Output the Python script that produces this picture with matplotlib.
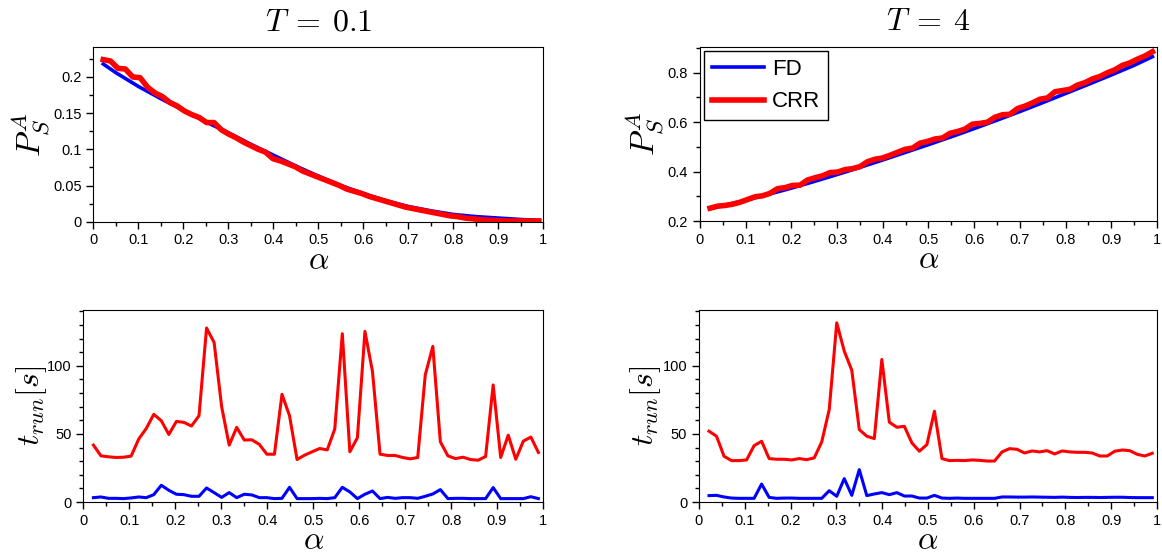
import numpy as np
import matplotlib
matplotlib.use("Agg")
from matplotlib import pyplot as plt
from matplotlib.ticker import MultipleLocator

plt.rcParams['mathtext.fontset'] = 'cm'
plt.rcParams['font.family'] = ['Liberation Sans', 'DejaVu Sans']

# alpha grid used for the CRR runs and timings (60 samples)
alpha = np.linspace(0.022, 0.99, 60)

# FD reference curves read at coarser alpha points
alpha_fd = [0.022, 0.05, 0.1, 0.15, 0.2, 0.25, 0.3, 0.35, 0.4, 0.45, 0.5,
            0.55, 0.6, 0.65, 0.7, 0.75, 0.8, 0.85, 0.9, 0.95, 0.99]
fd_t01 = [0.218, 0.206, 0.187, 0.170, 0.154, 0.138, 0.123, 0.107, 0.092, 0.077, 0.063,
          0.050, 0.039, 0.029, 0.021, 0.015, 0.010, 0.007, 0.005, 0.003, 0.002]
fd_t4 = [0.250, 0.262, 0.284, 0.308, 0.333, 0.360, 0.388, 0.417, 0.447, 0.478, 0.509,
         0.541, 0.574, 0.608, 0.643, 0.679, 0.716, 0.753, 0.791, 0.830, 0.865]

crr_t01 = [0.224, 0.222, 0.212, 0.211, 0.200, 0.199, 0.186, 0.178, 0.173, 0.165,
           0.160, 0.153, 0.148, 0.144, 0.137, 0.137, 0.127, 0.121, 0.116, 0.110,
           0.105, 0.100, 0.096, 0.087, 0.084, 0.080, 0.076, 0.070, 0.066, 0.062,
           0.058, 0.054, 0.050, 0.045, 0.042, 0.039, 0.035, 0.032, 0.029, 0.026,
           0.023, 0.020, 0.018, 0.016, 0.014, 0.012, 0.010, 0.008, 0.007, 0.005,
           0.004, 0.003, 0.002, 0.002, 0.001, 0.001, 0.001, 0.001, 0.001, 0.001]
crr_t4 = [0.252, 0.260, 0.263, 0.268, 0.276, 0.287, 0.298, 0.302, 0.312, 0.331,
          0.335, 0.344, 0.345, 0.366, 0.375, 0.383, 0.396, 0.398, 0.408, 0.412,
          0.420, 0.440, 0.450, 0.455, 0.466, 0.478, 0.490, 0.495, 0.515, 0.522,
          0.532, 0.536, 0.555, 0.562, 0.572, 0.592, 0.595, 0.600, 0.620, 0.630,
          0.632, 0.655, 0.665, 0.678, 0.693, 0.698, 0.723, 0.728, 0.733, 0.750,
          0.760, 0.775, 0.785, 0.800, 0.812, 0.830, 0.840, 0.855, 0.868, 0.885]

# run times [s]
trun_crr_t01 = [41.8, 33.9, 33.2, 32.7, 32.9, 33.7, 46.2, 54.0, 64.4, 59.7,
                49.6, 59.2, 58.5, 55.8, 63.4, 127.8, 117.2, 70.0, 41.8, 54.8,
                45.5, 45.7, 42.3, 35.1, 35.1, 79.1, 63.4, 31.2, 34.4, 36.9,
                39.3, 38.3, 53.6, 123.6, 36.9, 47.2, 125.3, 95.8, 35.1, 34.2,
                34.2, 32.7, 31.7, 32.7, 93.4, 114.3, 44.2, 33.9, 31.9, 32.9,
                31.2, 30.7, 33.4, 86.0, 32.7, 49.1, 31.4, 44.7, 47.7, 36.4]
trun_fd_t01 = [3.2, 3.7, 2.7, 2.7, 2.5, 3.0, 3.7, 3.2, 5.4, 12.3,
               8.6, 5.7, 5.4, 4.2, 4.2, 10.3, 6.9, 3.4, 6.9, 3.2,
               5.7, 5.2, 3.2, 3.2, 2.5, 2.7, 10.8, 2.5, 2.5, 2.5,
               2.7, 2.5, 3.2, 10.8, 7.4, 2.5, 5.7, 8.1, 2.5, 3.4,
               2.7, 3.2, 3.2, 2.7, 4.2, 5.9, 9.1, 2.5, 2.7, 2.7,
               2.5, 2.5, 2.5, 10.6, 2.5, 2.5, 2.5, 2.5, 3.9, 2.5]
trun_crr_t4 = [52.0, 48.3, 33.6, 30.4, 30.4, 30.9, 41.4, 44.6, 31.9, 31.4,
               31.4, 30.9, 31.9, 31.1, 32.4, 44.1, 67.9, 131.6, 110.8, 96.8,
               53.2, 48.3, 46.6, 104.7, 58.6, 54.9, 55.6, 43.4, 37.3, 42.2,
               66.7, 31.9, 30.4, 30.6, 30.4, 30.9, 30.6, 30.1, 30.1, 36.8,
               39.2, 38.7, 36.0, 37.5, 36.8, 37.7, 35.3, 37.5, 36.8, 36.5,
               36.5, 36.0, 33.8, 33.8, 37.3, 38.2, 37.7, 35.0, 33.8, 35.8]
trun_fd_t4 = [4.7, 4.9, 3.7, 2.9, 2.7, 2.7, 2.7, 13.2, 3.4, 2.7,
              2.9, 2.9, 2.7, 2.7, 2.7, 2.7, 8.3, 4.2, 17.2, 4.9,
              23.8, 4.7, 5.9, 6.9, 5.4, 6.9, 4.4, 4.4, 2.9, 2.9,
              4.9, 2.9, 2.7, 2.9, 2.7, 2.7, 2.7, 2.7, 2.7, 3.7,
              3.7, 3.6, 3.6, 3.7, 3.6, 3.5, 3.4, 3.6, 3.4, 3.3,
              3.4, 3.4, 3.3, 3.4, 3.5, 3.5, 3.3, 3.2, 3.2, 3.2]

BLUE = (0, 0, 1)
RED = (1, 0, 0)


def style_axes(ax, ymajor, yminor):
    ax.set_xlim(0, 1)
    ax.xaxis.set_major_locator(MultipleLocator(0.1))
    ax.xaxis.set_minor_locator(MultipleLocator(0.05))
    ax.yaxis.set_major_locator(MultipleLocator(ymajor))
    ax.yaxis.set_minor_locator(MultipleLocator(yminor))
    ax.tick_params(which='both', direction='out', labelsize=10.5, top=False, right=False)
    ax.tick_params(which='major', length=5, width=1)
    ax.tick_params(which='minor', length=3, width=1)
    ax.xaxis.set_major_formatter(plt.FuncFormatter(lambda v, p: f"{v:g}"))
    ax.yaxis.set_major_formatter(plt.FuncFormatter(lambda v, p: f"{v:g}"))
    ax.set_xlabel(r'$\alpha$', fontsize=23, labelpad=-1)


fig = plt.figure(figsize=(11.62, 5.56), dpi=100)
ax1 = fig.add_axes([0.0803, 0.6013, 0.3873, 0.3136])
ax2 = fig.add_axes([0.6024, 0.6025, 0.3933, 0.3129])
ax3 = fig.add_axes([0.0717, 0.0971, 0.3956, 0.3453])
ax4 = fig.add_axes([0.6015, 0.0971, 0.3941, 0.3453])

ax1.plot(alpha_fd, fd_t01, color=BLUE, lw=2.6, label='FD')
ax1.plot(alpha, crr_t01, color=RED, lw=4, label='CRR')
ax1.set_ylim(0, 0.241)
style_axes(ax1, 0.05, 0.025)
ax1.set_ylabel(r'$P_S^A$', fontsize=24)
ax1.yaxis.set_label_coords(-0.092, 0.5)
ax1.set_title(r'$T\:=\:0.1$', fontsize=23, pad=12)

ax2.plot(alpha_fd, fd_t4, color=BLUE, lw=2.6, label='FD')
ax2.plot(alpha, crr_t4, color=RED, lw=4, label='CRR')
ax2.set_ylim(0.2, 0.904)
style_axes(ax2, 0.2, 0.1)
ax2.set_ylabel(r'$P_S^A$', fontsize=24)
ax2.yaxis.set_label_coords(-0.075, 0.5)
ax2.set_title(r'$T\:=\:4$', fontsize=23, pad=12)
leg = ax2.legend(loc='upper left', fontsize=16, fancybox=False, framealpha=1,
                 edgecolor='black', handlelength=2.35, borderaxespad=0.2,
                 borderpad=0.35, labelspacing=0.5, handletextpad=0.35)
leg.get_frame().set_linewidth(1)

ax3.plot(alpha, trun_crr_t01, color=RED, lw=2.2)
ax3.plot(alpha, trun_fd_t01, color=BLUE, lw=2.2)
ax3.set_ylim(0, 141)
style_axes(ax3, 50, 10)
ax3.set_ylabel(r'$t_{run}[s]$', fontsize=23)
ax3.yaxis.set_label_coords(-0.075, 0.5)

ax4.plot(alpha, trun_crr_t4, color=RED, lw=2.2)
ax4.plot(alpha, trun_fd_t4, color=BLUE, lw=2.2)
ax4.set_ylim(0, 141)
style_axes(ax4, 50, 10)
ax4.set_ylabel(r'$t_{run}[s]$', fontsize=23)
ax4.yaxis.set_label_coords(-0.078, 0.5)

fig.savefig('out.png', dpi=100)
